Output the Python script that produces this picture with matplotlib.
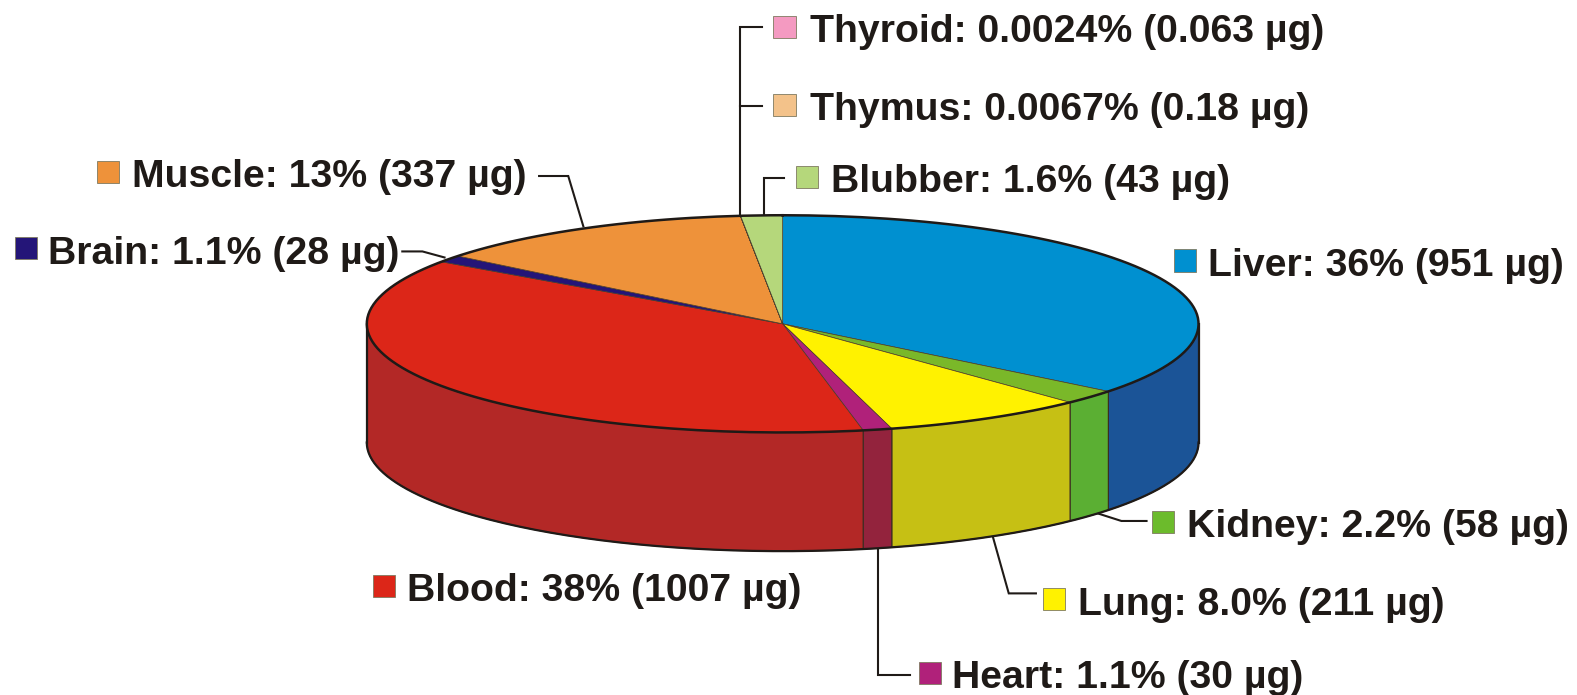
import numpy as np
import matplotlib
matplotlib.use("Agg")
import matplotlib.pyplot as plt
from matplotlib.patches import Wedge, Rectangle
from matplotlib.transforms import Affine2D

plt.rcParams['font.family'] = ['Liberation Sans', 'DejaVu Sans']

# clockwise from 12 o'clock
organs = ["Liver", "Kidney", "Lung", "Heart", "Blood", "Brain", "Muscle", "Thyroid", "Thymus", "Blubber"]
percents = ["36%", "2.2%", "8.0%", "1.1%", "38%", "1.1%", "13%", "0.0024%", "0.0067%", "1.6%"]
micrograms = [951, 58, 211, 30, 1007, 28, 337, 0.063, 0.18, 43]
mass_labels = ["951", "58", "211", "30", "1007", "28", "337", "0.063", "0.18", "43"]

top_colors = ["#0090D0", "#7AB829", "#FFF200", "#B0217A", "#DC2618", "#241578", "#EE923A", "#F49AC1", "#F3C28A", "#B5D77B"]
side_colors = ["#1B5497", "#5BAF33", "#C6C014", "#93233D", "#B32826", "#241578", "#EE923A", "#F49AC1", "#F3C28A", "#B5D77B"]
key_colors = ["#0090D0", "#6CBB2C", "#FFF200", "#B0217A", "#DC2618", "#241578", "#EE923A", "#F49AC1", "#F3C28A", "#B5D77B"]

S = 1577 / 1568  # positions below
cx, cy, rx, ry, depth = 778.2 * S, 322 * S, 413.5 * S, 108 * S, 118 * S
ink = "#1f1a17"

# square x, text x, text baseline
label_pos = {
    "Liver": (1167, 1201, 274), "Kidney": (1145, 1180, 534), "Lung": (1037, 1072, 611),
    "Heart": (914, 947, 684), "Blood": (371, 405, 598), "Brain": (15, 48, 262),
    "Muscle": (96, 131, 186), "Thyroid": (769, 805, 42), "Thymus": (769, 805, 119),
    "Blubber": (791, 826, 191),
}
leaders = {
    "Thyroid": [(736, 214), (736, 27), (758, 27)],
    "Thymus": [(736, 105), (758, 105)],
    "Blubber": [(760, 214), (760, 177), (780, 177)],
    "Muscle": [(580, 225), (565, 175), (536, 175)],
    "Brain": [(442, 256), (420, 250), (400, 250)],
    "Kidney": [(1090, 510), (1115, 518), (1140, 518)],
    "Lung": [(987, 533), (1003, 590), (1030, 590)],
    "Heart": [(873, 547), (873, 671), (905, 671)],
}

fig = plt.figure(figsize=(15.77, 6.95), dpi=100)
ax = fig.add_axes([0, 0, 1, 1])
ax.set_xlim(0, 1577)
ax.set_ylim(695, 0)
ax.axis("off")

edges = np.cumsum([0] + micrograms) / sum(micrograms) * 360


def arc(a0, a1):
    t = np.radians(np.linspace(a0, a1, 200))
    return cx + rx * np.sin(t), cy - ry * np.cos(t)


# rim, only the front half shows
for i in range(len(organs)):
    a0, a1 = max(edges[i], 90), min(edges[i + 1], 270)
    if a1 <= a0:
        continue
    x, y = arc(a0, a1)
    ax.fill(np.r_[x, x[::-1]], np.r_[y, y[::-1] + depth], fc=side_colors[i], ec="#3a2a20", lw=0.8, zorder=2)

x, y = arc(90, 270)
ax.plot(x, y + depth, color=ink, lw=1.6, zorder=3)
ax.plot([x[0], x[0]], [y[0], y[0] + depth], color=ink, lw=1.6, zorder=3)
ax.plot([x[-1], x[-1]], [y[-1], y[-1] + depth], color=ink, lw=1.6, zorder=3)

# top face
tr = Affine2D().scale(rx, -ry).translate(cx, cy) + ax.transData
for i in range(len(organs)):
    w = Wedge((0, 0), 1, 90 - edges[i + 1], 90 - edges[i], fc=top_colors[i], ec="#4a3a2a", lw=0.5, transform=tr, zorder=4)
    ax.add_patch(w)
x, y = arc(0, 360)
ax.plot(x, y, color=ink, lw=1.8, zorder=5)

for name, pts in leaders.items():
    ax.plot([p[0] * S for p in pts], [p[1] * S for p in pts], color=ink, lw=1.5, zorder=1,
            solid_joinstyle="miter")

for i, name in enumerate(organs):
    sq, tx, base = label_pos[name]
    ax.add_patch(Rectangle((sq * S, (base - 26) * S), 22 * S, 22 * S, fc=key_colors[i], ec="#7f7a60", lw=0.6, zorder=6))
    ax.text(tx * S, base * S, f"{name}: {percents[i]} ({mass_labels[i]} µg)", fontsize=28.3, fontweight="bold",
            color=ink, ha="left", va="baseline", zorder=6)

fig.savefig("out.png", dpi=100)
